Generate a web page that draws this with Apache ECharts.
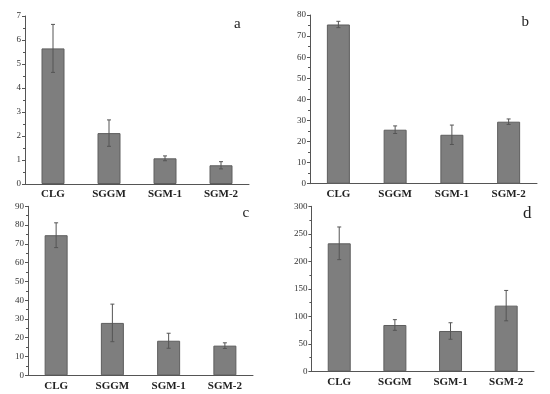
<!DOCTYPE html>
<html>
<head>
<meta charset="utf-8">
<script src="https://cdn.jsdelivr.net/npm/echarts@6/dist/echarts.min.js"></script>
<style>html,body{margin:0;padding:0;background:#fff}#c{width:550px;height:394px}</style>
</head>
<body>
<div id="c"></div>
<script>
var categories = ['CLG', 'SGGM', 'SGM-1', 'SGM-2'];
var valuesA = [5.65, 2.12, 1.07, 0.78];
var errorsA = [1.0, 0.55, 0.1, 0.15];
var valuesB = [75.5, 25.6, 23.2, 29.4];
var errorsB = [1.5, 1.8, 4.6, 1.3];
var valuesC = [74.6, 27.9, 18.4, 15.8];
var errorsC = [6.6, 10.0, 4.0, 1.5];
var valuesD = [232.7, 84.2, 73.3, 119.4];
var errorsD = [29.7, 9.7, 15.0, 27.6];
var panelLetters = ['a', 'b', 'c', 'd'];
var yMax = [7, 80, 90, 300];
var yStep = [1, 10, 10, 50];

var panels = [
  {v: valuesA, e: errorsA},
  {v: valuesB, e: errorsB},
  {v: valuesC, e: errorsC},
  {v: valuesD, e: errorsD}
];
var grids = [
  {left: 25, top: 16, width: 224, height: 168},
  {left: 310, top: 15, width: 227, height: 168.7},
  {left: 28, top: 206.3, width: 225, height: 169},
  {left: 311.4, top: 206.3, width: 222.6, height: 165}
];
var letterPos = [[238, 27, 15], [525.5, 25, 15], [246.5, 216, 15], [527, 215, 17]];

var FONT = '"Liberation Serif", "DejaVu Serif", serif';
var axisColor = '#555';

var xAxes = [], yAxes = [], series = [], graphics = [];
panels.forEach(function (p, i) {
  xAxes.push({
    type: 'category', gridIndex: i, data: categories, boundaryGap: true,
    axisLine: {lineStyle: {color: axisColor, width: 1}},
    axisTick: {alignWithLabel: true, length: 3, lineStyle: {color: axisColor}},
    axisLabel: {fontFamily: FONT, fontWeight: 'bold', fontSize: 11, color: '#222', margin: 5}
  });
  yAxes.push({
    type: 'value', gridIndex: i, min: 0, max: yMax[i], interval: yStep[i],
    splitLine: {show: false},
    axisLine: {show: true, lineStyle: {color: axisColor, width: 1}},
    axisTick: {show: true, length: 3, lineStyle: {color: axisColor}},
    minorTick: {show: true, splitNumber: 2, length: 2, lineStyle: {color: axisColor}},
    axisLabel: {fontFamily: FONT, fontSize: 9, color: '#333', margin: 4}
  });
  series.push({
    type: 'bar', xAxisIndex: i, yAxisIndex: i, barWidth: 23,
    data: p.v,
    itemStyle: {color: '#7e7e7e', borderColor: '#5e5e5e', borderWidth: 1},
    silent: true
  });
  series.push({
    type: 'custom', xAxisIndex: i, yAxisIndex: i,
    data: p.v.map(function (v, k) { return [k, v, p.e[k]]; }),
    renderItem: function (params, api) {
      var x = api.value(0), m = api.value(1), e = api.value(2);
      var top = api.coord([x, m + e]);
      var bot = api.coord([x, m - e]);
      var hw = 2;
      var st = {stroke: '#555', lineWidth: 1};
      return {
        type: 'group',
        children: [
          {type: 'line', shape: {x1: top[0], y1: top[1], x2: bot[0], y2: bot[1]}, style: st},
          {type: 'line', shape: {x1: top[0] - hw, y1: top[1], x2: top[0] + hw, y2: top[1]}, style: st},
          {type: 'line', shape: {x1: bot[0] - hw, y1: bot[1], x2: bot[0] + hw, y2: bot[1]}, style: st}
        ]
      };
    },
    z: 5, silent: true
  });
  graphics.push({
    type: 'text', left: letterPos[i][0] - 4, top: letterPos[i][1] - 10,
    style: {text: panelLetters[i], font: letterPos[i][2] + 'px ' + FONT, fill: '#222'}
  });
});

var chart = echarts.init(document.getElementById('c'), null, {renderer: 'canvas'});
chart.setOption({
  animation: false,
  backgroundColor: '#fff',
  grid: grids,
  xAxis: xAxes,
  yAxis: yAxes,
  series: series,
  graphic: graphics
});
</script>
</body>
</html>
